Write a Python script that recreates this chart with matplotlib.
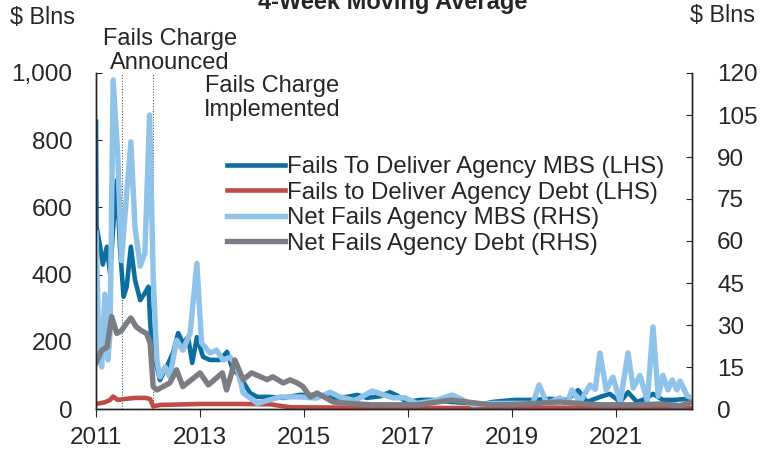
import matplotlib
matplotlib.use("Agg")
import matplotlib.pyplot as plt
from matplotlib.ticker import FuncFormatter

plt.rcParams.update({
    "font.family": ["Liberation Sans", "DejaVu Sans"],
    "text.color": "#262626",
    "axes.edgecolor": "#262626",
    "xtick.color": "#262626",
    "ytick.color": "#262626",
})

# Fails to deliver, agency MBS ($bn, LHS)
MBS_FTD_X = [2011.00, 2011.01, 2011.08, 2011.13, 2011.21, 2011.27, 2011.34, 2011.40, 2011.46,
             2011.53, 2011.59, 2011.67, 2011.75, 2011.85, 2011.94, 2012.01, 2012.04, 2012.09,
             2012.17, 2012.23, 2012.36, 2012.48, 2012.58, 2012.67, 2012.77, 2012.85, 2012.94,
             2013.06, 2013.19, 2013.38, 2013.52, 2013.63, 2013.71, 2013.81, 2013.96, 2014.10,
             2014.35, 2014.60, 2014.92, 2015.25, 2015.56, 2015.83, 2016.02, 2016.21, 2016.46,
             2016.65, 2016.79, 2016.98, 2017.23, 2017.48, 2017.81, 2018.13, 2018.44, 2018.63,
             2018.83, 2019.06, 2019.40, 2019.73, 2020.06, 2020.27, 2020.44, 2020.69, 2020.88,
             2021.08, 2021.23, 2021.40, 2021.56, 2021.71, 2021.90, 2022.10, 2022.37, 2022.46]
MBS_FTD_Y = [855, 543, 483, 430, 483, 404, 560, 681, 483,
             334, 364, 483, 384, 324, 345, 364, 265, 146,
             126, 86, 126, 167, 226, 196, 214, 137, 214,
             155, 146, 146, 170, 116, 107, 86, 48, 36,
             36, 33, 42, 42, 33, 36, 42, 33, 38,
             50, 40, 21, 27, 27, 21, 18, 15, 21,
             24, 27, 27, 30, 27, 56, 21, 36, 45,
             21, 50, 21, 30, 45, 27, 27, 30, 28]

# Fails to deliver, agency debt ($bn, LHS)
DEBT_FTD_X = [2011.00, 2011.17, 2011.27, 2011.33, 2011.42, 2011.56, 2011.75, 2011.94, 2012.04,
              2012.10, 2012.23, 2013.00, 2013.77, 2014.35, 2014.73, 2015.90, 2017.83, 2019.75, 2022.46]
DEBT_FTD_Y = [15, 20, 27, 37, 27, 30, 33, 33, 30,
              8, 12, 15, 15, 14, 5, 4, 3, 4, 3]

# Net fails, agency MBS ($bn, RHS)
MBS_NET_X = [2011.00, 2011.06, 2011.11, 2011.17, 2011.23, 2011.27, 2011.33, 2011.42, 2011.49,
             2011.59, 2011.67, 2011.75, 2011.85, 2011.94, 2012.03, 2012.10, 2012.17, 2012.23,
             2012.33, 2012.42, 2012.55, 2012.67, 2012.81, 2012.94, 2013.03, 2013.19, 2013.32,
             2013.44, 2013.58, 2013.71, 2013.83, 2014.02, 2014.10, 2014.54, 2014.92, 2015.25,
             2015.50, 2015.69, 2015.98, 2016.31, 2016.71, 2016.94, 2017.17, 2017.52, 2017.85,
             2018.25, 2018.63, 2018.90, 2019.40, 2019.52, 2019.67, 2019.92, 2020.06, 2020.15,
             2020.31, 2020.50, 2020.60, 2020.69, 2020.81, 2020.94, 2021.08, 2021.23, 2021.33,
             2021.46, 2021.60, 2021.71, 2021.81, 2021.90, 2022.00, 2022.08, 2022.17, 2022.23,
             2022.37, 2022.46]
MBS_NET_Y = [62.8, 20, 15, 41, 17.5, 27, 117.5, 90, 53,
             77, 95.4, 65, 51, 55.7, 105, 47, 17.5, 11.5,
             15, 11.5, 24.6, 21, 27, 52, 23.6, 20, 21,
             17.5, 18.5, 15, 5.7, 3.2, 2, 4.3, 4.3, 3.9,
             6, 4.3, 3, 6.4, 4, 4, 2, 3, 5,
             1.5, 2, 2, 2, 8.6, 2, 4, 2, 6.8,
             2.5, 8.6, 7, 20, 6.8, 11.4, 2.5, 20, 7.5,
             12, 3, 29.3, 4.6, 12, 6.8, 10.4, 6.8, 10,
             4.6, 4]

# Net fails, agency debt ($bn, RHS)
DEBT_NET_X = [2011.00, 2011.11, 2011.21, 2011.30, 2011.40, 2011.49, 2011.59, 2011.67, 2011.77,
              2011.87, 2011.97, 2012.04, 2012.10, 2012.17, 2012.29, 2012.42, 2012.55, 2012.67,
              2012.84, 2013.00, 2013.16, 2013.43, 2013.51, 2013.58, 2013.67, 2013.83, 2013.99,
              2014.29, 2014.40, 2014.60, 2014.73, 2014.87, 2014.98, 2015.12, 2015.25, 2015.56,
              2015.88, 2016.29, 2016.81, 2017.19, 2017.83, 2018.58, 2018.96, 2019.92, 2020.69,
              2021.46, 2021.85, 2022.23, 2022.46]
DEBT_NET_Y = [16.4, 21, 22, 33, 27, 28, 30.7, 32.5, 29.4,
              28, 27, 23.6, 8, 6.8, 8, 9.3, 14, 8,
              10.5, 12.9, 8.6, 12.9, 6.8, 11, 17.5, 10.5, 12.9,
              10.5, 11.5, 9.3, 10.4, 9.3, 8, 4.3, 5.7, 2.5,
              2, 1.5, 1.5, 1.5, 3.2, 1.5, 1.5, 2.5, 1.5,
              1.5, 1.8, 1.2, 2.5]

LEFT_TICKS = [0, 200, 400, 600, 800, 1000]
RIGHT_TICKS = [0, 15, 30, 45, 60, 75, 90, 105, 120]
YEAR_TICKS = [2011, 2013, 2015, 2017, 2019, 2021]
ANNOUNCED = 2011.5
IMPLEMENTED = 2012.1

C_MBS = "#0B6E9E"
C_DEBT = "#BF4A46"
C_MBS_NET = "#8FC3EA"
C_DEBT_NET = "#7B7C84"

fig = plt.figure(figsize=(7.62, 4.53), dpi=100)
ax = fig.add_axes([96 / 762, 44 / 453, 596 / 762, 336 / 453])
ax2 = ax.twinx()

lw = 3.3
h1, = ax.plot(MBS_FTD_X, MBS_FTD_Y, color=C_MBS, lw=lw, solid_joinstyle="round",
              label="Fails To Deliver Agency MBS (LHS)")
h2, = ax.plot(DEBT_FTD_X, DEBT_FTD_Y, color=C_DEBT, lw=lw, solid_joinstyle="round",
              label="Fails to Deliver Agency Debt (LHS)")
h3, = ax2.plot(MBS_NET_X, MBS_NET_Y, color=C_MBS_NET, lw=lw + 0.6, solid_joinstyle="round",
               label="Net Fails Agency MBS (RHS)")
h4, = ax2.plot(DEBT_NET_X, DEBT_NET_Y, color=C_DEBT_NET, lw=lw + 0.6, solid_joinstyle="round",
               label="Net Fails Agency Debt (RHS)")

for xv in (ANNOUNCED, IMPLEMENTED):
    ax.axvline(xv, color="#555555", lw=0.8, ls=(0, (1, 1.5)), zorder=0)

ax.set_xlim(2011.0, 2022.46)
ax.set_ylim(0, 1000)
ax2.set_ylim(0, 120)
ax.set_xticks(YEAR_TICKS)
ax.set_yticks(LEFT_TICKS)
ax2.set_yticks(RIGHT_TICKS)
ax.yaxis.set_major_formatter(FuncFormatter(lambda v, p: f"{int(v):,}"))

for a in (ax, ax2):
    a.spines["top"].set_visible(False)
    for s in a.spines.values():
        s.set_linewidth(1.0)
ax.tick_params(axis="y", direction="in", length=4, pad=17, labelsize=17.5)
ax2.tick_params(axis="y", direction="in", length=4, pad=18, labelsize=17.5)
ax.tick_params(axis="x", direction="out", length=6, pad=7, labelsize=17.5)

fig.text(42 / 762, 1 - 18 / 453, "$ Blns", ha="center", va="center", fontsize=16.8)
fig.text(723 / 762, 1 - 15 / 453, "$ Blns", ha="center", va="center", fontsize=16.8)
fig.text(393 / 762, 1 - 2 / 453, "4-Week Moving Average", ha="center", va="center",
         fontsize=17, fontweight="bold")
fig.text(170 / 762, 1 - 51 / 453, "Fails Charge\nAnnounced", ha="center", va="center",
         fontsize=17, linespacing=1.17)
fig.text(272 / 762, 1 - 98 / 453, "Fails Charge\nImplemented", ha="center", va="center",
         fontsize=17, linespacing=1.17)

ax2.legend(handles=[h1, h2, h3, h4], loc="upper left", bbox_to_anchor=(227 / 762, 1 - 156 / 453),
           bbox_transform=fig.transFigure, frameon=False, fontsize=17.3, handlelength=2.4,
           handletextpad=0.1, labelspacing=0.15, borderpad=0, borderaxespad=0)

fig.savefig("out.png", dpi=100)
